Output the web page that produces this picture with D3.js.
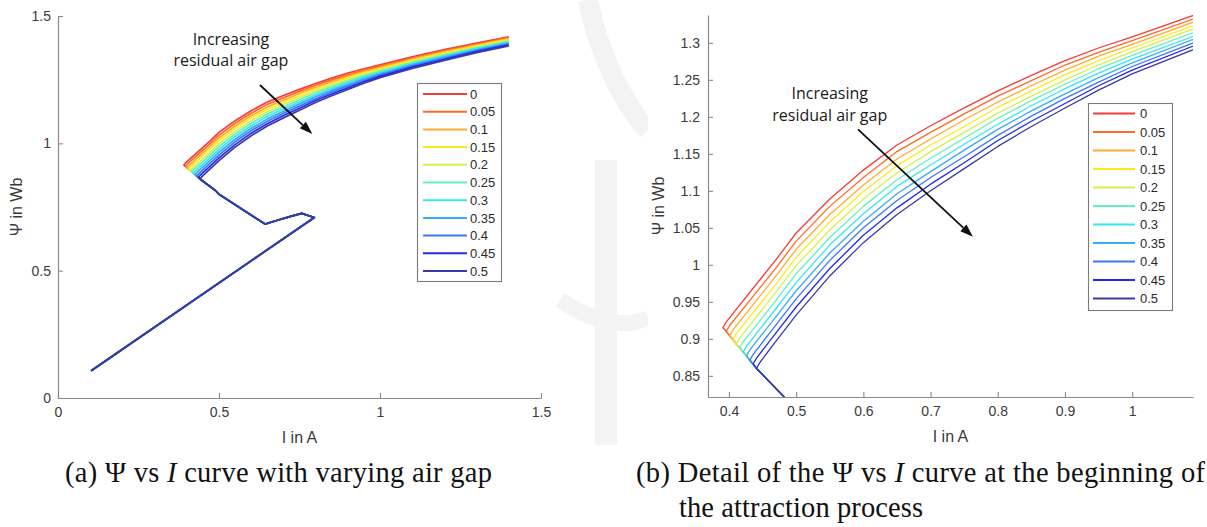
<!DOCTYPE html>
<html>
<head>
<meta charset="utf-8">
<script src="https://cdn.jsdelivr.net/npm/d3@7"></script>
<style>
  body { margin: 0; background: #fff; }
  svg { display: block; }
</style>
</head>
<body>
<svg id="fig" width="1207" height="527"></svg>
<script>
// Residual air gap of each simulated case and its legend entry
const gaps = [0, 0.05, 0.1, 0.15, 0.2, 0.25, 0.3, 0.35, 0.4, 0.45, 0.5];
const gapLabels = ["0", "0.05", "0.1", "0.15", "0.2", "0.25", "0.3", "0.35", "0.4", "0.45", "0.5"];
const gapColors = ["#f23b3b", "#ff6a20", "#ffaa33", "#ffe81a", "#d6ef4f", "#5ff0c3",
                   "#35e6ef", "#39aaf5", "#3b78f2", "#2626f0", "#3a3aa0"];

// Shared part of the trajectory: linear rise, armature movement, then flux build-up [I, Psi]
const approachPath = [
  [0.103, 0.107], [0.796, 0.709], [0.757, 0.725], [0.720, 0.712], [0.679, 0.697],
  [0.643, 0.683], [0.632, 0.692], [0.500, 0.800], [0.488, 0.816]
];

// Corner where each gap's curve leaves the common diagonal [I, Psi]
const turnPoints = [
  [0.391, 0.915], [0.396, 0.910], [0.401, 0.904], [0.406, 0.899], [0.411, 0.893], [0.416, 0.888],
  [0.421, 0.882], [0.426, 0.877], [0.431, 0.871], [0.436, 0.866], [0.441, 0.860]
];
// First point after the corner [I, Psi]
const hookPoints = [
  [0.396, 0.923], [0.401, 0.918], [0.406, 0.912], [0.411, 0.907], [0.416, 0.901], [0.421, 0.896],
  [0.426, 0.890], [0.431, 0.885], [0.436, 0.879], [0.441, 0.874], [0.446, 0.868]
];

// Current samples of the rising branch (A)
const currentGrid = [0.47, 0.5, 0.55, 0.6, 0.65, 0.7, 0.75, 0.8, 0.85, 0.9, 0.95, 1.0, 1.1, 1.2, 1.3, 1.4];

// Flux linkage (Wb) of the rising branch for each gap, sampled on currentGrid
const fluxCurves = [
  [1.007, 1.043, 1.089, 1.128, 1.162, 1.188, 1.212, 1.235, 1.256, 1.276, 1.293, 1.308, 1.340, 1.368, 1.394, 1.418], // 0
  [0.996, 1.032, 1.079, 1.118, 1.153, 1.179, 1.204, 1.228, 1.249, 1.270, 1.287, 1.303, 1.335, 1.364, 1.390, 1.415], // 0.05
  [0.985, 1.021, 1.068, 1.108, 1.143, 1.170, 1.196, 1.220, 1.242, 1.263, 1.282, 1.298, 1.331, 1.360, 1.386, 1.411], // 0.1
  [0.974, 1.010, 1.058, 1.099, 1.134, 1.162, 1.187, 1.213, 1.235, 1.257, 1.276, 1.293, 1.326, 1.355, 1.383, 1.408], // 0.15
  [0.963, 0.999, 1.047, 1.089, 1.124, 1.153, 1.179, 1.205, 1.228, 1.250, 1.270, 1.288, 1.322, 1.351, 1.379, 1.404], // 0.2
  [0.952, 0.988, 1.037, 1.079, 1.115, 1.144, 1.171, 1.198, 1.222, 1.244, 1.265, 1.283, 1.317, 1.347, 1.375, 1.401], // 0.25
  [0.941, 0.976, 1.027, 1.069, 1.106, 1.135, 1.163, 1.190, 1.215, 1.238, 1.259, 1.278, 1.312, 1.343, 1.371, 1.397], // 0.3
  [0.930, 0.965, 1.016, 1.059, 1.096, 1.126, 1.155, 1.183, 1.208, 1.231, 1.253, 1.273, 1.308, 1.339, 1.367, 1.394], // 0.35
  [0.919, 0.954, 1.006, 1.050, 1.087, 1.118, 1.146, 1.175, 1.201, 1.225, 1.247, 1.268, 1.303, 1.334, 1.364, 1.390], // 0.4
  [0.908, 0.943, 0.995, 1.040, 1.077, 1.109, 1.138, 1.168, 1.194, 1.218, 1.242, 1.263, 1.299, 1.330, 1.360, 1.387], // 0.45
  [0.897, 0.932, 0.985, 1.030, 1.068, 1.100, 1.130, 1.160, 1.187, 1.212, 1.236, 1.258, 1.294, 1.326, 1.356, 1.383]  // 0.5
];

// Tick values and labels
const fullXTicks = [0, 0.5, 1, 1.5];
const fullXTickLabels = ["0", "0.5", "1", "1.5"];
const fullYTicks = [0, 0.5, 1, 1.5];
const fullYTickLabels = ["0", "0.5", "1", "1.5"];
const detailXTicks = [0.4, 0.5, 0.6, 0.7, 0.8, 0.9, 1.0];
const detailXTickLabels = ["0.4", "0.5", "0.6", "0.7", "0.8", "0.9", "1"];
const detailYTicks = [0.85, 0.9, 0.95, 1.0, 1.05, 1.1, 1.15, 1.2, 1.25, 1.3];
const detailYTickLabels = ["0.85", "0.9", "0.95", "1", "1.05", "1.1", "1.15", "1.2", "1.25", "1.3"];

const svg = d3.select("#fig");
const AXIS_COLOR = "#8a8a8a";
const TEXT_COLOR = "#3a3a3a";
const SANS = "'Liberation Sans', Arial, Helvetica, sans-serif";

// Faint page seal behind the figures, showing only between the plots
const seal = svg.append("g").attr("fill", "none");
seal.append("path").attr("d", "M588,0 C600,60 628,110 648,130").attr("stroke", "#f3f3f3").attr("stroke-width", 20);
seal.append("path").attr("d", "M606,160 L606,445").attr("stroke", "#f4f4f4").attr("stroke-width", 22);
seal.append("path").attr("d", "M560,300 C590,320 620,330 648,318").attr("stroke", "#f4f4f4").attr("stroke-width", 16);
svg.append("rect").attr("x", 0).attr("y", 6).attr("width", 553).attr("height", 440).attr("fill", "#fff");
svg.append("rect").attr("x", 648).attr("y", 0).attr("width", 559).attr("height", 446).attr("fill", "#fff");

function drawPanel(p) {
  const x = d3.scaleLinear().domain(p.xDomain).range([p.left, p.right]);
  const y = d3.scaleLinear().domain(p.yDomain).range([p.bottom, p.top]);
  const g = svg.append("g");

  svg.append("clipPath").attr("id", "clip-" + p.id)
    .append("rect")
    .attr("x", p.left).attr("y", p.top)
    .attr("width", p.right - p.left).attr("height", p.bottom - p.top);

  // Flux linkage curves, smallest gap first so the largest gap ends on top
  const line = d3.line().x(d => x(d[0])).y(d => y(d[1]));
  const curves = g.append("g").attr("clip-path", `url(#clip-${p.id})`);
  gaps.forEach((gap, k) => {
    const rise = currentGrid.map((c, i) => [c, fluxCurves[k][i]]);
    const pts = approachPath.concat(turnPoints.slice(k).reverse(), [hookPoints[k]], rise);
    curves.append("path")
      .attr("d", line(pts))
      .attr("fill", "none")
      .attr("stroke", gapColors[k])
      .attr("stroke-width", p.lineWidth)
      .attr("stroke-linejoin", "round");
  });

  // Axes with inward ticks, left and bottom only
  const xAxis = d3.axisBottom(x).tickValues(p.xTicks)
    .tickFormat((d, i) => p.xTickLabels[i])
    .tickSizeInner(-5).tickSizeOuter(0).tickPadding(9);
  const yAxis = d3.axisLeft(y).tickValues(p.yTicks)
    .tickFormat((d, i) => p.yTickLabels[i])
    .tickSizeInner(-5).tickSizeOuter(0).tickPadding(p.yPad);
  const gx = g.append("g").attr("transform", `translate(0,${p.bottom})`).call(xAxis);
  const gy = g.append("g").attr("transform", `translate(${p.left},0)`).call(yAxis);
  [gx, gy].forEach(a => {
    a.select(".domain").attr("stroke", AXIS_COLOR).attr("stroke-width", 1.2);
    a.selectAll(".tick line").attr("stroke", AXIS_COLOR).attr("stroke-width", 1.1);
    a.selectAll(".tick text").attr("fill", TEXT_COLOR)
      .style("font-family", SANS).style("font-size", "14px");
  });

  // Axis titles
  g.append("text")
    .attr("x", (p.left + p.right) / 2).attr("y", p.bottom + 45)
    .attr("text-anchor", "middle")
    .attr("fill", TEXT_COLOR).style("font-family", SANS).style("font-size", "16px")
    .text("I in A");
  g.append("text")
    .attr("transform", `translate(${p.yTitleX},${(p.top + p.bottom) / 2}) rotate(-90)`)
    .attr("text-anchor", "middle")
    .attr("fill", TEXT_COLOR).style("font-family", SANS).style("font-size", "16px")
    .text("\u03A8 in Wb");

  // Annotation arrow and its text
  const a0 = [x(p.arrow[0][0]), y(p.arrow[0][1])];
  const a1 = [x(p.arrow[1][0]), y(p.arrow[1][1])];
  const ang = Math.atan2(a1[1] - a0[1], a1[0] - a0[0]);
  const headLen = 13, headHalf = 4.5;
  const base = [a1[0] - headLen * Math.cos(ang), a1[1] - headLen * Math.sin(ang)];
  g.append("line")
    .attr("x1", a0[0]).attr("y1", a0[1]).attr("x2", base[0]).attr("y2", base[1])
    .attr("stroke", "#111").attr("stroke-width", 1.8);
  g.append("path")
    .attr("d", `M${a1[0]},${a1[1]}` +
      `L${base[0] + headHalf * Math.sin(ang)},${base[1] - headHalf * Math.cos(ang)}` +
      `L${base[0] - headHalf * Math.sin(ang)},${base[1] + headHalf * Math.cos(ang)}Z`)
    .attr("fill", "#111");
  p.note.forEach((t, i) => {
    g.append("text")
      .attr("x", x(p.notePos[0])).attr("y", y(p.notePos[1]) + i * p.noteGap)
      .attr("text-anchor", "middle")
      .attr("fill", "#1a1a1a").style("font-family", "'Open Sans', sans-serif").style("font-size", "16px")
      .text(t);
  });

  // Legend
  const L = p.legend;
  g.append("rect")
    .attr("x", L.x + 0.5).attr("y", L.y + 0.5).attr("width", L.w).attr("height", L.h)
    .attr("fill", "#fff").attr("stroke", "#7a7a7a").attr("stroke-width", 1.1);
  gapLabels.forEach((lab, k) => {
    const cy = L.y + L.first + k * L.step;
    g.append("line")
      .attr("x1", L.x + L.lineX0).attr("x2", L.x + L.lineX1).attr("y1", cy).attr("y2", cy)
      .attr("stroke", gapColors[k]).attr("stroke-width", 2);
    g.append("text")
      .attr("x", L.x + L.textX).attr("y", cy + 4.6)
      .attr("fill", "#2a2a2a").style("font-family", SANS).style("font-size", "13px")
      .text(lab);
  });
}

drawPanel({
  id: "full",
  xDomain: [0, 1.5], yDomain: [0, 1.5],
  left: 58, right: 541, top: 16, bottom: 398,
  xTicks: fullXTicks, xTickLabels: fullXTickLabels,
  yTicks: fullYTicks, yTickLabels: fullYTickLabels,
  yPad: 7, yTitleX: 22, lineWidth: 1.7,
  arrow: [[0.627, 1.229], [0.790, 1.037]],
  note: ["Increasing", "residual air gap"], notePos: [0.537, 1.388], noteGap: 21.5,
  legend: { x: 417, y: 83, w: 84, h: 198, first: 11, step: 17.7, lineX0: 6, lineX1: 50, textX: 53 }
});

drawPanel({
  id: "detail",
  xDomain: [0.3688, 1.0905], yDomain: [0.8214, 1.3376],
  left: 708, right: 1193, top: 15, bottom: 397,
  xTicks: detailXTicks, xTickLabels: detailXTickLabels,
  yTicks: detailYTicks, yTickLabels: detailYTickLabels,
  yPad: 8, yTitleX: 664, lineWidth: 1.3,
  arrow: [[0.592, 1.183], [0.763, 1.038]],
  note: ["Increasing", "residual air gap"], notePos: [0.550, 1.2247], noteGap: 22.5,
  legend: { x: 1088, y: 103, w: 84, h: 207, first: 10.5, step: 18.5, lineX0: 5, lineX1: 47, textX: 52 }
});

// Figure captions
const SERIF = "'Liberation Serif', 'Times New Roman', serif";
function caption(xPos, yPos, width, parts) {
  const t = svg.append("text").attr("x", xPos).attr("y", yPos)
    .attr("textLength", width).attr("lengthAdjust", "spacing")
    .attr("fill", "#111").style("font-family", SERIF).style("font-size", "28.5px");
  parts.forEach(([s, italic]) => {
    t.append("tspan").attr("font-style", italic ? "italic" : "normal").text(s);
  });
}
caption(65, 482, 427, [["(a) \u03A8 vs ", false], ["I", true], [" curve with varying air gap", false]]);
caption(636, 482, 569, [["(b) Detail of the \u03A8 vs ", false], ["I", true], [" curve at the beginning of", false]]);
caption(679, 517, 244, [["the attraction process", false]]);
</script>
</body>
</html>
